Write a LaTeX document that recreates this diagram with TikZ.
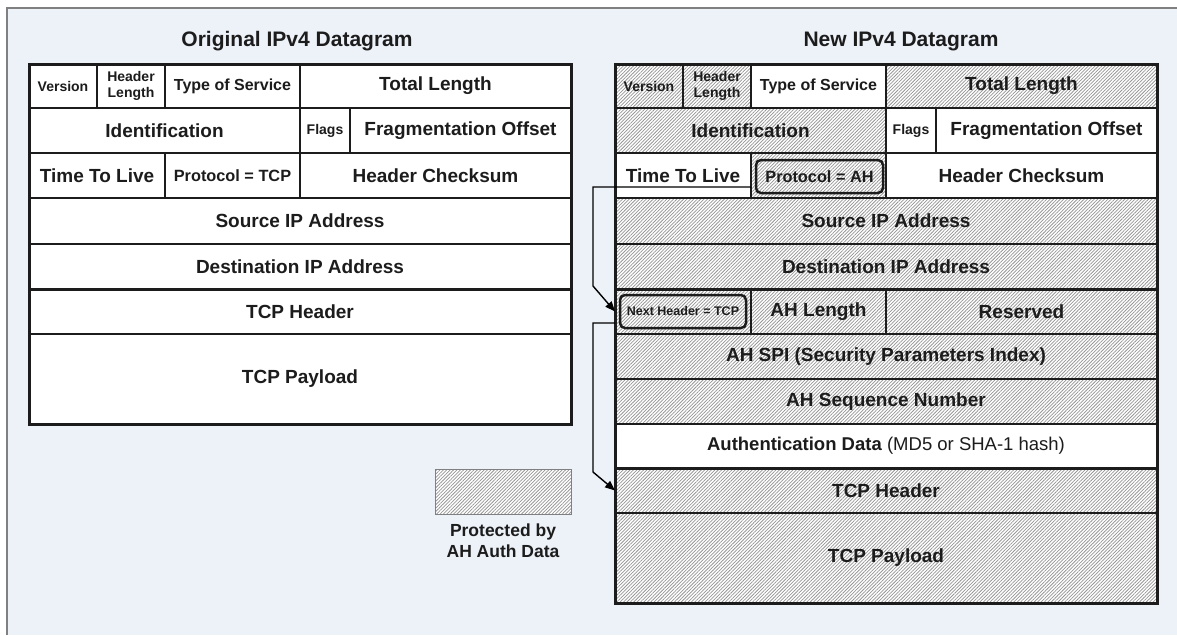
\documentclass[tikz,border=0pt]{standalone}
\usepackage{fontspec}
\setmainfont{Liberation Sans}
\usetikzlibrary{patterns.meta,arrows.meta,calc}
\definecolor{bgblue}{RGB}{237,242,249}
\definecolor{framegray}{RGB}{128,128,128}
\definecolor{ink}{RGB}{28,28,28}
\definecolor{hatchgray}{RGB}{150,150,150}

% one header field: name, left, top, width, height, extra style, text
\newcommand\pktcell[7]{%
  \node[cell,#6,minimum width=#4pt,minimum height=#5pt] (#1) at (#2,#3) {#7};}

\begin{document}
\begin{tikzpicture}[x=1pt,y=-1pt,
  cell/.style={draw=ink, line width=1.3pt, anchor=north west, inner sep=0pt,
    outer sep=0pt, align=center, text=ink, fill=white,
    font=\bfseries\fontsize{19}{21}\selectfont},
  hatch/.style={preaction={fill=white},
    pattern={Lines[angle=45,distance=2.4pt,line width=0.75pt]},
    pattern color=hatchgray},
  small/.style={font=\bfseries\fontsize{14}{15.5}\selectfont},
  mid/.style={font=\bfseries\fontsize{16.3}{18}\selectfont},
  tos/.style={font=\bfseries\fontsize{16}{17}\selectfont},
  title/.style={text=ink, font=\bfseries\fontsize{21}{24}\selectfont},
  rbox/.style={draw=ink, line width=2.5pt, rounded corners=5pt, inner sep=0pt,
    text=ink},
  border/.style={draw=ink, line width=3pt},
  conn/.style={draw=black, line width=1.4pt, -{Triangle[length=10pt,width=8pt]}},
]
\useasboundingbox (0,0) rectangle (1177,635);
\fill[white] (0,0) rectangle (1177,635);
\fill[bgblue] (7,8) rectangle (1177,635);
\draw[framegray, line width=2pt] (7,635) -- (7,8) -- (1177,8);

% titles
\node[title] (ltitle) at (297,41) {Original IPv4 Datagram};
\node[title] (rtitle) at (901,41) {New IPv4 Datagram};

% original datagram
\pktcell{lver}{29}{64}{68}{44}{small}{Version}
\pktcell{lhl}{97}{64}{68}{44}{small}{Header\\Length}
\pktcell{ltos}{165}{64}{135}{44}{tos}{Type of Service}
\pktcell{ltot}{300}{64}{271}{44}{}{Total Length}
\pktcell{lid}{29}{108}{271}{45}{}{Identification}
\pktcell{lflg}{300}{108}{50}{45}{small}{Flags}
\pktcell{lfrag}{350}{108}{221}{45}{}{Fragmentation Offset}
\pktcell{lttl}{29}{153}{136}{45}{}{Time To Live}
\pktcell{lproto}{165}{153}{135}{45}{mid}{Protocol = TCP}
\pktcell{lchk}{300}{153}{271}{45}{}{Header Checksum}
\pktcell{lsrc}{29}{198}{542}{46}{}{Source IP Address}
\pktcell{ldst}{29}{244}{542}{45}{}{Destination IP Address}
\pktcell{ltcph}{29}{289}{542}{45}{}{TCP Header}
\pktcell{lpay}{29}{334}{542}{90}{}{TCP Payload}
\draw[border] (lver.north west) rectangle (lpay.south east);
\draw[border] (ltcph.north west) -- (ltcph.north east);

% new datagram with AH
\pktcell{rver}{615}{64}{68}{44}{small,hatch}{Version}
\pktcell{rhl}{683}{64}{68}{44}{small,hatch}{Header\\Length}
\pktcell{rtos}{751}{64}{135}{44}{tos}{Type of Service}
\pktcell{rtot}{886}{64}{271}{44}{hatch}{Total Length}
\pktcell{rid}{615}{108}{271}{45}{hatch}{Identification}
\pktcell{rflg}{886}{108}{50}{45}{small}{Flags}
\pktcell{rfrag}{936}{108}{221}{45}{}{Fragmentation Offset}
\pktcell{rttl}{615}{153}{136}{45}{}{Time To Live}
\pktcell{rproto}{751}{153}{135}{45}{hatch}{}
\pktcell{rchk}{886}{153}{271}{45}{}{Header Checksum}
\pktcell{rsrc}{615}{198}{542}{46}{hatch}{Source IP Address}
\pktcell{rdst}{615}{244}{542}{45}{hatch}{Destination IP Address}
\pktcell{rnh}{615}{289}{136}{45}{hatch}{}
\pktcell{rahl}{751}{289}{135}{45}{hatch}{AH Length}
\pktcell{rres}{886}{289}{271}{45}{hatch}{Reserved}
\pktcell{rspi}{615}{334}{542}{45}{hatch}{AH SPI (Security Parameters Index)}
\pktcell{rseq}{615}{379}{542}{45}{hatch}{AH Sequence Number}
\pktcell{rauth}{615}{424}{542}{44}{font=\fontsize{18.5}{20}\selectfont}{\textbf{Authentication Data} (MD5 or SHA-1 hash)}
\pktcell{rtcph}{615}{468}{542}{45}{hatch}{TCP Header}
\pktcell{rpay}{615}{513}{542}{90}{hatch}{TCP Payload}
\draw[border] (rver.north west) rectangle (rpay.south east);
\draw[border] (rnh.north west) -- (rres.north east);
\draw[border] (rtcph.north west) -- (rtcph.north east);

% highlighted next-protocol fields
\node[rbox, minimum width=127pt, minimum height=33pt,
  font=\bfseries\fontsize{16.3}{18}\selectfont] (protobox) at ($(rproto.center)+(1,1)$) {Protocol = AH};
\node[rbox, minimum width=126pt, minimum height=33pt,
  font=\bfseries\fontsize{12.5}{14}\selectfont] (nhbox) at (rnh.center) {Next Header = TCP};

% next-header chain
\coordinate (c1) at (751,187);
\coordinate (c2) at (615,323);
\draw[conn] (c1) -- ++(-158,0) -- ++(0,99) -- (rnh.west);
\draw[conn] (c2) -- ++(-22,0) -- ++(0,149) -- (rtcph.west);

% legend
\node[draw=framegray, line width=1pt, hatch, anchor=north west, inner sep=0pt,
  minimum width=136pt, minimum height=45pt] (legend) at (435,469) {};
\node[text=ink, align=center, font=\bfseries\fontsize{17.5}{21}\selectfont]
  (legendtxt) at (503,541) {Protected by\\AH Auth Data};
\end{tikzpicture}
\end{document}
